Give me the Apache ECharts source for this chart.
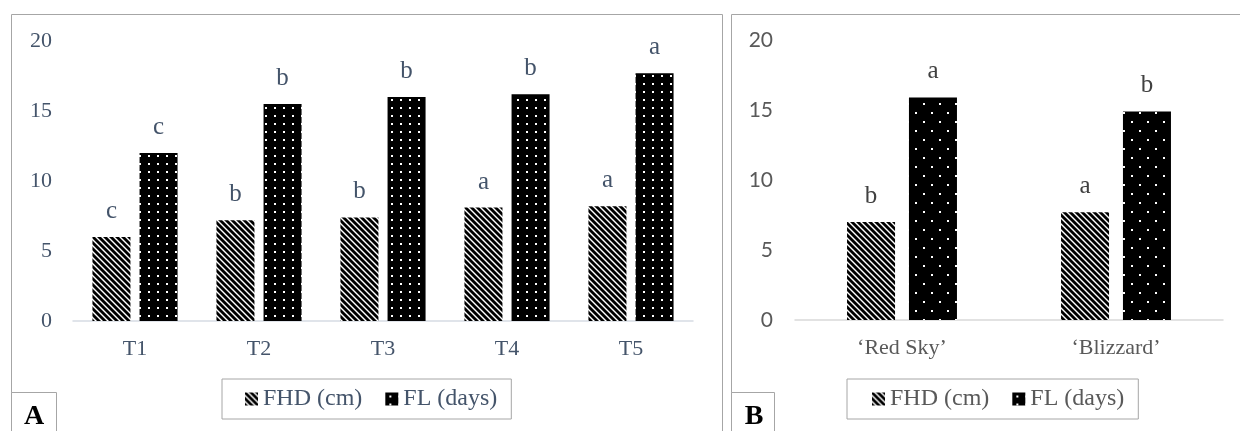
<!DOCTYPE html>
<html>
<head>
<meta charset="utf-8">
<script src="https://cdn.jsdelivr.net/npm/echarts@6/dist/echarts.min.js"></script>
<style>
html,body{margin:0;padding:0;background:#fff;}
#c{width:1240px;height:431px;}
</style>
</head>
<body>
<div id="c"></div>
<script>
// ---- data ----
const categoriesA = ['T1', 'T2', 'T3', 'T4', 'T5'];
const fhdA = [6.0, 7.2, 7.4, 8.1, 8.2];
const flA = [12.0, 15.5, 16.0, 16.2, 17.7];
const lettersFhdA = ['c', 'b', 'b', 'a', 'a'];
const lettersFlA = ['c', 'b', 'b', 'b', 'a'];

const categoriesB = ['\u2018Red Sky\u2019', '\u2018Blizzard\u2019'];
const fhdB = [7.0, 7.7];
const flB = [15.9, 14.9];
const lettersFhdB = ['b', 'a'];
const lettersFlB = ['a', 'b'];

const seriesNames = ['FHD (cm)', 'FL (days)'];
const yTicks = [0, 5, 10, 15, 20];

// ---- patterns ----
function stripePattern() {
  const c = document.createElement('canvas');
  c.width = 6; c.height = 6;
  const g = c.getContext('2d');
  g.fillStyle = '#fff'; g.fillRect(0, 0, 6, 6);
  g.strokeStyle = '#000'; g.lineWidth = 2.8;
  for (let k = -1; k <= 1; k++) {
    g.beginPath(); g.moveTo(k * 6 - 1, -1); g.lineTo(k * 6 + 7, 7); g.stroke();
  }
  return { image: c, repeat: 'repeat' };
}
function dotPatternA() {
  const c = document.createElement('canvas');
  c.width = 9; c.height = 8;
  const g = c.getContext('2d');
  g.fillStyle = '#000'; g.fillRect(0, 0, 9, 8);
  g.fillStyle = '#fff'; g.fillRect(4, 3, 2, 2);
  return { image: c, repeat: 'repeat' };
}
function dotPatternB() {
  const c = document.createElement('canvas');
  c.width = 16; c.height = 18;
  const g = c.getContext('2d');
  g.fillStyle = '#000'; g.fillRect(0, 0, 16, 18);
  g.fillStyle = '#fff';
  g.fillRect(3, 4, 2, 2);
  g.fillRect(11, 13, 2, 2);
  return { image: c, repeat: 'repeat' };
}

const SERIF = '"Liberation Serif", "Times New Roman", serif';
const colA = '#44546A';
const colB = '#595959';

function letterLabel(letters, color) {
  return {
    show: true, position: 'top', distance: 13,
    fontFamily: SERIF, fontSize: 25, color: color,
    formatter: p => letters[p.dataIndex]
  };
}

const chart = echarts.init(document.getElementById('c'), null, { renderer: 'canvas' });
const option = {
  animation: false,
  backgroundColor: '#fff',
  grid: [
    { left: 73, top: 41, width: 620, height: 280, outerBoundsMode: 'none' },
    { left: 795, top: 40, width: 428, height: 280, outerBoundsMode: 'none' }
  ],
  xAxis: [
    {
      gridIndex: 0, type: 'category', data: categoriesA,
      axisLine: { lineStyle: { color: '#D6DCE4', width: 1.5 } },
      axisTick: { show: false },
      axisLabel: { fontFamily: SERIF, fontSize: 22, color: colA, margin: 17 }
    },
    {
      gridIndex: 1, type: 'category', data: categoriesB,
      axisLine: { lineStyle: { color: '#D9D9D9', width: 1.5 } },
      axisTick: { show: false },
      axisLabel: { fontFamily: SERIF, fontSize: 22, color: colB, margin: 17 }
    }
  ],
  yAxis: [
    {
      gridIndex: 0, type: 'value', min: yTicks[0], max: yTicks[yTicks.length - 1], interval: 5,
      axisLine: { show: false }, axisTick: { show: false }, splitLine: { show: false },
      axisLabel: { fontFamily: SERIF, fontSize: 22, color: colA, margin: 21 }
    },
    {
      gridIndex: 1, type: 'value', min: yTicks[0], max: yTicks[yTicks.length - 1], interval: 5,
      axisLine: { show: false }, axisTick: { show: false }, splitLine: { show: false },
      axisLabel: { fontFamily: 'Lato, "Open Sans", sans-serif', fontSize: 21, color: colB, margin: 22 }
    }
  ],
  legend: [
    {
      data: seriesNames, left: 222, top: 379, orient: 'horizontal',
      icon: 'rect', itemWidth: 13, itemHeight: 13, itemGap: 23,
      padding: [8, 14, 8, 23], borderColor: '#A6A6A6', borderWidth: 1,
      backgroundColor: '#fff',
      textStyle: { fontFamily: SERIF, fontSize: 24, color: colA },
      selectedMode: false
    },
    {
      data: seriesNames, left: 847, top: 379, orient: 'horizontal',
      icon: 'rect', itemWidth: 13, itemHeight: 13, itemGap: 23,
      padding: [8, 14, 8, 25], borderColor: '#A6A6A6', borderWidth: 1,
      backgroundColor: '#fff',
      textStyle: { fontFamily: SERIF, fontSize: 24, color: colB },
      selectedMode: false
    }
  ],
  series: [
    {
      name: seriesNames[0], type: 'bar', xAxisIndex: 0, yAxisIndex: 0, data: fhdA,
      barWidth: 38, barGap: '24%',
      itemStyle: { color: stripePattern() },
      label: letterLabel(lettersFhdA, colA)
    },
    {
      name: seriesNames[1], type: 'bar', xAxisIndex: 0, yAxisIndex: 0, data: flA,
      barWidth: 38, barGap: '24%',
      itemStyle: { color: dotPatternA() },
      label: letterLabel(lettersFlA, colA)
    },
    {
      name: seriesNames[0], type: 'bar', xAxisIndex: 1, yAxisIndex: 1, data: fhdB,
      barWidth: 48, barGap: '29%',
      itemStyle: { color: stripePattern() },
      label: letterLabel(lettersFhdB, '#404040')
    },
    {
      name: seriesNames[1], type: 'bar', xAxisIndex: 1, yAxisIndex: 1, data: flB,
      barWidth: 48, barGap: '29%',
      itemStyle: { color: dotPatternB() },
      label: letterLabel(lettersFlB, '#404040')
    }
  ],
  graphic: [
    { type: 'rect', silent: true, z: -10, shape: { x: 11.5, y: 14.5, width: 711, height: 500 },
      style: { fill: 'none', stroke: '#A6A6A6', lineWidth: 1 } },
    { type: 'rect', silent: true, z: -10, shape: { x: 731.5, y: 14.5, width: 600, height: 500 },
      style: { fill: 'none', stroke: '#A6A6A6', lineWidth: 1 } },
    { type: 'rect', silent: true, shape: { x: 11.5, y: 392.5, width: 45, height: 100 },
      style: { fill: '#fff', stroke: '#A6A6A6', lineWidth: 1 } },
    { type: 'rect', silent: true, shape: { x: 731.5, y: 392.5, width: 43, height: 100 },
      style: { fill: '#fff', stroke: '#A6A6A6', lineWidth: 1 } },
    { type: 'text', silent: true, x: 34, y: 431,
      style: { text: 'A', fontFamily: SERIF, fontSize: 28, fontWeight: 'bold', fill: '#000', align: 'center', verticalAlign: 'bottom' } },
    { type: 'text', silent: true, x: 754, y: 431,
      style: { text: 'B', fontFamily: SERIF, fontSize: 28, fontWeight: 'bold', fill: '#000', align: 'center', verticalAlign: 'bottom' } }
  ]
};
chart.setOption(option);
</script>
</body>
</html>
